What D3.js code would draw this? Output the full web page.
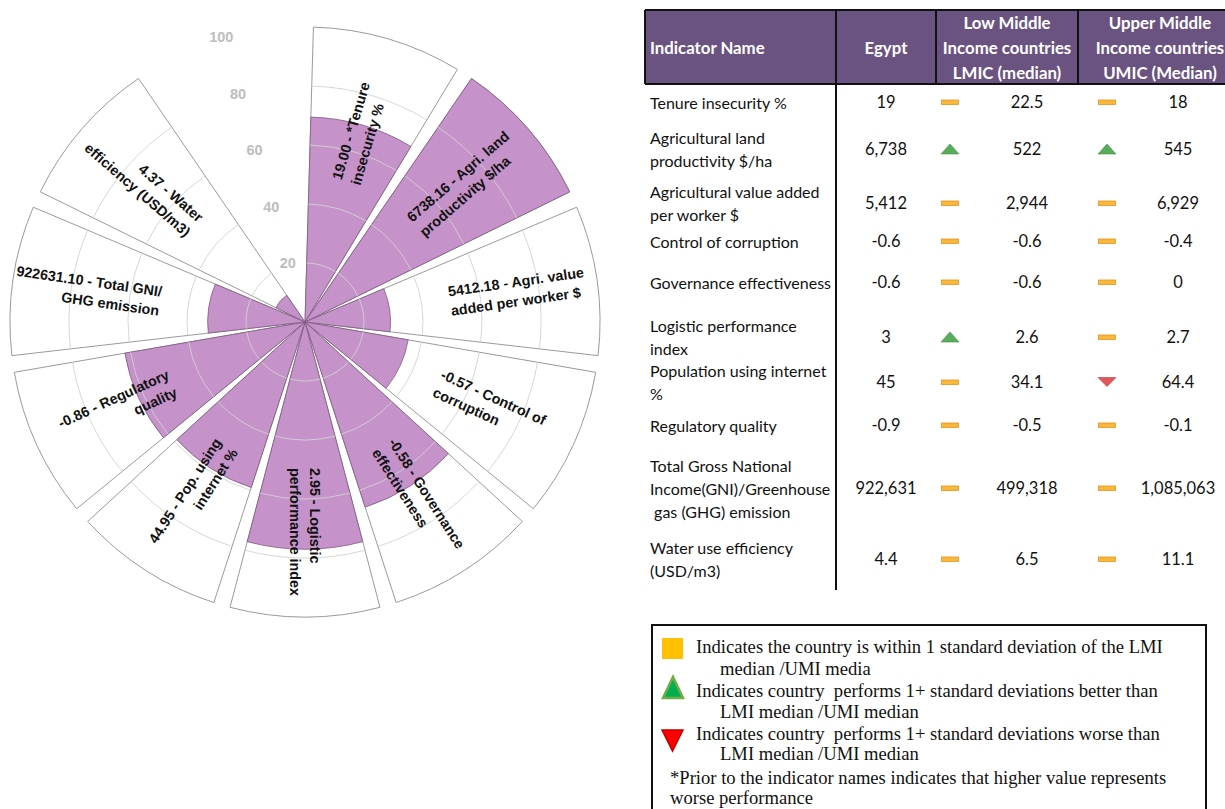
<!DOCTYPE html>
<html><head><meta charset="utf-8">
<script src="https://cdn.jsdelivr.net/npm/d3@7"></script>
<style>
body{margin:0;background:#fff;}
svg{display:block;}
text{white-space:pre;}
</style></head><body>
<svg id="c" width="1225" height="809"></svg>
<script>
// ---------- Polar chart data ----------
const polarNames = [
  ["*Tenure", "insecurity %"],
  ["Agri. land", "productivity $/ha"],
  ["Agri. value", "added per worker $"],
  ["Control of", "corruption"],
  ["Governance", "effectiveness"],
  ["Logistic", "performance index"],
  ["Pop. using", "internet %"],
  ["Regulatory", "quality"],
  ["Total GNI/", "GHG emission"],
  ["Water", "efficiency (USD/m3)"]
];
const polarRaw = [19.00, 6738.16, 5412.18, -0.57, -0.58, 2.95, 44.95, -0.86, 922631.10, 4.37];
const polarScore = [69.5, 100, 29, 35.5, 66, 77, 59, 62, 33, 11];
const radialTicks = [20, 40, 60, 80, 100];

// ---------- Table data ----------
const tableHeaders = [["Indicator Name"], ["Egypt"], ["Low Middle", "Income countries", "LMIC (median)"], ["Upper Middle", "Income countries", "UMIC (Median)"]];
const tableNames = [
  ["Tenure insecurity %"],
  ["Agricultural land", "productivity $/ha"],
  ["Agricultural value added", "per worker $"],
  ["Control of corruption"],
  ["Governance effectiveness"],
  ["Logistic performance", "index"],
  ["Population using internet", "%"],
  ["Regulatory quality"],
  ["Total Gross National", "Income(GNI)/Greenhouse", " gas (GHG) emission"],
  ["Water use efficiency", "(USD/m3)"]
];
const egyptVals = ["19", "6,738", "5,412", "-0.6", "-0.6", "3", "45", "-0.9", "922,631", "4.4"];
const lmicVals = ["22.5", "522", "2,944", "-0.6", "-0.6", "2.6", "34.1", "-0.5", "499,318", "6.5"];
const umicVals = ["18", "545", "6,929", "-0.4", "0", "2.7", "64.4", "-0.1", "1,085,063", "11.1"];
const lmicFlags = ["same", "better", "same", "same", "same", "better", "same", "same", "same", "same"];
const umicFlags = ["same", "better", "same", "same", "same", "same", "worse", "same", "same", "same"];

const legendLines = [
  {t: "Indicates the country is within 1 standard deviation of the LMI", ind: 0},
  {t: "median /UMI media", ind: 1},
  {t: "Indicates country  performs 1+ standard deviations better than", ind: 0},
  {t: "LMI median /UMI median", ind: 1},
  {t: "Indicates country  performs 1+ standard deviations worse than", ind: 0},
  {t: "LMI median /UMI median", ind: 1},
  {t: "*Prior to the indicator names indicates that higher value represents", ind: 2},
  {t: "worse performance", ind: 2}
];

const svg = d3.select("#c");

// ================= POLAR =================
const cx = 305, cy = 322, R = 295;
const n = polarScore.length;
const rScale = d3.scaleLinear().domain([0, 100]).range([0, R]);
const aScale = d3.scaleBand().domain(d3.range(n))
  .range([0, 2 * Math.PI * n / (n + 1)]).paddingInner(0.1).paddingOuter(0.05);
const arc = d3.arc();
const pg = svg.append("g").attr("transform", `translate(${cx},${cy})`);

pg.selectAll("path.bg").data(d3.range(n)).join("path").attr("class", "bg")
  .attr("d", i => arc({innerRadius: 0, outerRadius: rScale(100), startAngle: aScale(i), endAngle: aScale(i) + aScale.bandwidth()}))
  .attr("fill", "#fff").attr("stroke", "#9a9a9a").attr("stroke-width", 1);

pg.selectAll("path.val").data(d3.range(n)).join("path").attr("class", "val")
  .attr("d", i => arc({innerRadius: 0, outerRadius: rScale(polarScore[i]), startAngle: aScale(i), endAngle: aScale(i) + aScale.bandwidth()}))
  .attr("fill", "#c592c9").attr("stroke", "#7d5a80").attr("stroke-width", 0.8);

// grid arcs
const gridData = [];
d3.range(n).forEach(i => radialTicks.slice(0, -1).forEach(t => gridData.push({i, t})));
pg.selectAll("path.grid").data(gridData).join("path").attr("class", "grid")
  .attr("d", d => {
    const p = d3.path();
    const s = aScale(d.i) - Math.PI / 2, e = s + aScale.bandwidth();
    p.arc(0, 0, rScale(d.t), s, e);
    return p.toString();
  })
  .attr("fill", "none").attr("stroke", "#d2d2d2").attr("stroke-width", 1).attr("opacity", 0.9);

// radial axis labels (in gap)
const gapAngle = 2 * Math.PI * (n + 0.5) / (n + 1);
pg.selectAll("text.tick").data(radialTicks).join("text").attr("class", "tick")
  .attr("x", t => (rScale(t) + 2) * Math.sin(gapAngle))
  .attr("y", t => -(rScale(t) + 2) * Math.cos(gapAngle))
  .attr("text-anchor", "middle").attr("dominant-baseline", "central")
  .attr("font-family", "Liberation Sans, Arial, sans-serif").attr("font-weight", "bold")
  .attr("font-size", 14.5).attr("fill", "#bdbdbd").text(t => t);

// wedge labels
const rL = rScale(49.5);
const lh = 19.5;
const lbl = pg.selectAll("g.lbl").data(d3.range(n)).join("g").attr("class", "lbl")
  .attr("transform", i => {
    const a = aScale(i) + aScale.bandwidth() / 2;
    const deg = a * 180 / Math.PI;
    const rot = deg > 180.5 ? deg - 270 : deg - 90;
    return `translate(${rL * Math.sin(a)},${-rL * Math.cos(a)}) rotate(${rot})`;
  });
lbl.each(function (i) {
  const a = aScale(i) + aScale.bandwidth() / 2;
  const deg = a * 180 / Math.PI;
  const flip = deg > 180.5;
  const lines = [polarRaw[i].toFixed(2) + " - " + polarNames[i][0], polarNames[i][1]];
  d3.select(this).selectAll("text").data(lines).join("text")
    .attr("x", 0).attr("y", (d, k) => (k - 0.5) * lh)
    .attr("text-anchor", flip ? "end" : "start").attr("dominant-baseline", "central")
    .attr("font-family", "Liberation Sans, Arial, sans-serif").attr("font-weight", "bold")
    .attr("font-size", 14.3).attr("fill", "#111").text(d => d);
});

// ================= TABLE =================
const colEdges = [645, 836, 936, 1078, 1244];
const headTop = 10, headBottom = 84;
const tbl = svg.append("g");
tbl.append("rect").attr("x", colEdges[0]).attr("y", headTop).attr("width", colEdges[4] - colEdges[0]).attr("height", headBottom - headTop)
  .attr("fill", "#6b5381");
tbl.append("path").attr("d", `M${colEdges[0]},${headTop}H${colEdges[4]}M${colEdges[0]},${headBottom}H${colEdges[4]}` +
  colEdges.map(x => `M${x},${headTop}V${headBottom}`).join(""))
  .attr("stroke", "#111").attr("stroke-width", 2).attr("fill", "none");
tbl.append("line").attr("x1", colEdges[1]).attr("x2", colEdges[1]).attr("y1", headBottom).attr("y2", 590)
  .attr("stroke", "#111").attr("stroke-width", 2);

const headFont = "Lato, 'Open Sans', sans-serif";
tableHeaders.forEach((lines, c) => {
  const x = c === 0 ? colEdges[0] + 5 : (colEdges[c] + colEdges[c + 1]) / 2 + (c === 3 ? -1 : 0);
  tbl.append("g").selectAll("text").data(lines).join("text")
    .attr("x", x).attr("y", (d, k) => 47 + (k - (lines.length - 1) / 2) * 25)
    .attr("text-anchor", c === 0 ? "start" : "middle").attr("dominant-baseline", "central")
    .attr("font-family", headFont).attr("font-weight", "bold").attr("font-size", 16.8).attr("fill", "#fff").text(d => d);
});

const rowCenters = [102, 149, 203, 241, 282, 337, 382, 425, 488, 559];
const bodyFont = 16;
const rowLH = 23;
tableNames.forEach((lines, r) => {
  const yc = rowCenters[r];
  tbl.append("g").selectAll("text").data(lines).join("text")
    .attr("x", 650).attr("y", (d, k) => yc + (k - (lines.length - 1) / 2) * rowLH)
    .attr("dominant-baseline", "central").attr("font-family", headFont).attr("font-size", bodyFont).attr("fill", "#111").text(d => d);
});
const valCols = [{vals: egyptVals, x: 886}, {vals: lmicVals, x: 1027}, {vals: umicVals, x: 1178}];
valCols.forEach(col => {
  tbl.append("g").selectAll("text").data(col.vals).join("text")
    .attr("x", col.x).attr("y", (d, r) => rowCenters[r])
    .attr("text-anchor", "middle").attr("dominant-baseline", "central")
    .attr("font-family", headFont).attr("font-size", bodyFont + 0.5).attr("fill", "#111").text(d => d);
});

function drawIcon(g, flag, x, y) {
  if (flag === "same") {
    g.append("rect").attr("x", x - 8.5).attr("y", y - 2).attr("width", 17).attr("height", 4.5)
      .attr("fill", "#f8b83c").attr("stroke", "#e8921c").attr("stroke-width", 0.8);
  } else if (flag === "better") {
    g.append("path").attr("d", `M${x - 9},${y + 5}L${x},${y - 5}L${x + 9},${y + 5}Z`)
      .attr("fill", "#57ad5b").attr("stroke", "#3f8e44").attr("stroke-width", 0.6);
  } else {
    g.append("path").attr("d", `M${x - 9},${y - 4.5}L${x},${y + 4.5}L${x + 9},${y - 4.5}Z`)
      .attr("fill", "#e0575a").attr("stroke", "#b8393c").attr("stroke-width", 0.6);
  }
}
lmicFlags.forEach((f, r) => drawIcon(tbl, f, 950, rowCenters[r]));
umicFlags.forEach((f, r) => drawIcon(tbl, f, 1107, rowCenters[r]));

// ================= LEGEND =================
const lg = svg.append("g");
lg.append("rect").attr("x", 652).attr("y", 625).attr("width", 554).attr("height", 220)
  .attr("fill", "#fff").attr("stroke", "#111").attr("stroke-width", 2);
lg.append("rect").attr("x", 662).attr("y", 638).attr("width", 21).attr("height", 21).attr("fill", "#ffc000");
lg.append("path").attr("d", "M663,698L673,677L683,698Z").attr("fill", "#00b050").attr("stroke", "#70ad47").attr("stroke-width", 2.5).attr("stroke-linejoin", "miter");
lg.append("path").attr("d", "M662,730L683,730L672.5,751Z").attr("fill", "#ff0000").attr("stroke", "#c00000").attr("stroke-width", 1.5);
const legY = [646, 668, 690, 711, 733, 753, 777, 797];
const legX = [696, 720, 670];
lg.selectAll("text").data(legendLines).join("text")
  .attr("x", d => legX[d.ind]).attr("y", (d, k) => legY[k])
  .attr("dominant-baseline", "central").attr("font-family", "Liberation Serif, 'Times New Roman', serif")
  .attr("font-size", 18.6).attr("fill", "#111").text(d => d.t);
</script>
</body></html>
